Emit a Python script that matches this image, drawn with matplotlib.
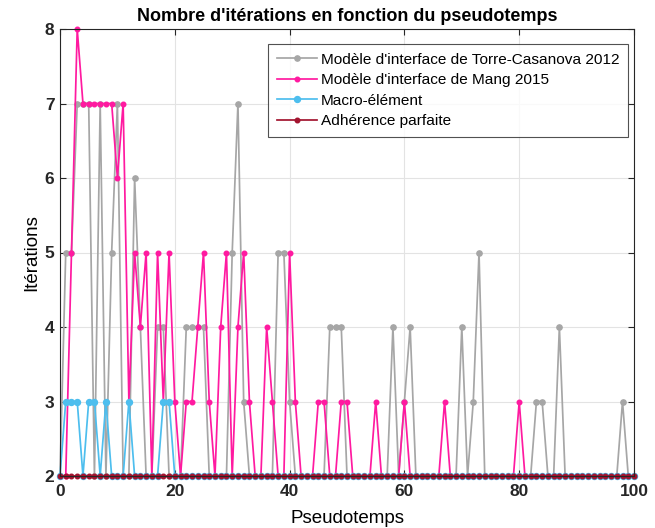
import matplotlib
matplotlib.use("Agg")
import matplotlib.pyplot as plt
import numpy as np

plt.rcParams['font.family'] = ['Liberation Sans', 'DejaVu Sans']

pseudotemps = list(range(0, 101))

torre_casanova = [2, 5, 5, 7, 7, 7, 2, 7, 2, 5,
                  7, 2, 2, 6, 4, 2, 2, 4, 4, 2,
                  2, 2, 4, 4, 4, 4, 2, 2, 2, 2,
                  5, 7, 3, 2, 2, 2, 2, 2, 5, 5,
                  3, 2, 2, 2, 2, 2, 2, 4, 4, 4,
                  2, 2, 2, 2, 2, 2, 2, 2, 4, 2,
                  3, 4, 2, 2, 2, 2, 2, 2, 2, 2,
                  4, 2, 3, 5, 2, 2, 2, 2, 2, 2,
                  2, 2, 2, 3, 3, 2, 2, 4, 2, 2,
                  2, 2, 2, 2, 2, 2, 2, 2, 3, 2,
                  2]

mang = [2, 2, 5, 8, 7, 7, 7, 7, 7, 7,
        6, 7, 3, 5, 4, 5, 2, 5, 3, 5,
        3, 2, 3, 3, 4, 5, 3, 2, 4, 5,
        2, 4, 5, 3, 2, 2, 4, 3, 2, 2,
        5, 3, 2, 2, 2, 3, 3, 2, 2, 3,
        3, 2, 2, 2, 2, 3, 2, 2, 2, 2,
        3, 2, 2, 2, 2, 2, 2, 3, 2, 2,
        2, 2, 2, 2, 2, 2, 2, 2, 2, 2,
        3, 2, 2, 2, 2, 2, 2, 2, 2, 2,
        2, 2, 2, 2, 2, 2, 2, 2, 2, 2,
        2]

macro = [2, 3, 3, 3, 2, 3, 3, 2, 3, 2,
         2, 2, 3, 2, 2, 2, 2, 2, 3, 3] + [2] * 81

adherence = [2] * 101

labels = ["Modèle d'interface de Torre-Casanova 2012",
          "Modèle d'interface de Mang 2015",
          "Macro-élément",
          "Adhérence parfaite"]
colors = ['#a6a6a6', '#ff1aa0', '#4dbeee', '#a2142f']
msizes = [3.8, 3.3, 4.3, 3.3]

fig = plt.figure(figsize=(6.55, 5.28), dpi=100)
ax = fig.add_axes([60/655, 52/528, 574/655, 447/528])

for ys, lab, c, ms in zip([torre_casanova, mang, macro, adherence], labels, colors, msizes):
    ax.plot(pseudotemps, ys, '-o', color=c, lw=1.25, ms=ms, mec=c, mfc=c, label=lab, clip_on=False)

ax.set_xlim(0, 100)
ax.set_ylim(2, 8)
ax.set_xticks(range(0, 101, 20))
ax.set_yticks(range(2, 9))
ax.grid(True, color='#e3e3e3', lw=0.8)
ax.set_axisbelow(True)
for s in ax.spines.values():
    s.set_color('#262626')
    s.set_linewidth(0.8)
ax.tick_params(direction='in', length=4, width=0.8, colors='#262626', labelsize=12.5,
               top=True, right=True, pad=4)
ax.tick_params(axis='x', pad=6)
for t in ax.get_xticklabels() + ax.get_yticklabels():
    t.set_fontweight('bold')
    t.set_color('#262626')

ax.set_title("Nombre d'itérations en fonction du pseudotemps", fontsize=13, fontweight='bold', pad=6)
ax.set_xlabel('Pseudotemps', fontsize=13.5, labelpad=8)
ax.set_ylabel('Itérations', fontsize=13.5, labelpad=3)

leg = ax.legend(loc='upper right', bbox_to_anchor=(0.989, 0.966), fontsize=11.1, frameon=True,
                fancybox=False, edgecolor='#262626', borderpad=0.55, handlelength=2.6,
                handletextpad=0.25, labelspacing=0.42, borderaxespad=0)
leg.get_frame().set_linewidth(0.8)

fig.savefig('out.png', dpi=100)
